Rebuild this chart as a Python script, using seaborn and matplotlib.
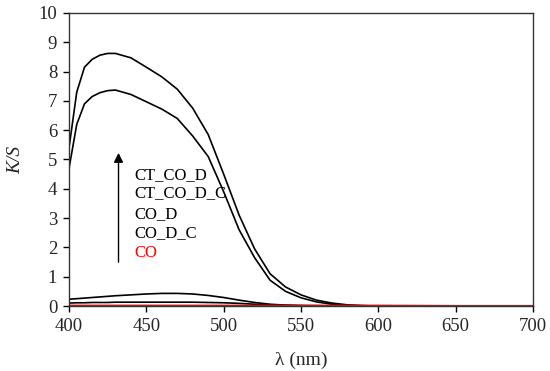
import pandas as pd
import seaborn as sns
import matplotlib.pyplot as plt

# wavelength grid (nm) and K/S values
wavelength = [400, 405, 410, 415, 420, 425, 430, 440, 450, 460, 470, 480, 490,
              500, 510, 520, 530, 540, 550, 560, 570, 580, 590, 600, 650, 700]
ct_co_d = [5.4, 7.3, 8.15, 8.42, 8.56, 8.62, 8.62, 8.47, 8.15, 7.82, 7.4, 6.75, 5.85,
           4.5, 3.1, 1.95, 1.1, 0.65, 0.38, 0.2, 0.1, 0.04, 0.01, 0.0, 0.0, 0.0]
ct_co_d_c = [4.7, 6.2, 6.9, 7.15, 7.28, 7.35, 7.37, 7.22, 6.97, 6.72, 6.4, 5.8, 5.1,
             3.9, 2.6, 1.65, 0.88, 0.5, 0.28, 0.14, 0.06, 0.02, 0.01, 0.0, 0.0, 0.0]
co_d = [0.23, 0.25, 0.27, 0.29, 0.31, 0.33, 0.35, 0.38, 0.41, 0.43, 0.43, 0.41, 0.36,
        0.29, 0.2, 0.12, 0.06, 0.03, 0.015, 0.01, 0.0, 0.0, 0.0, 0.0, 0.0, 0.0]
co_d_c = [0.1, 0.11, 0.11, 0.12, 0.12, 0.12, 0.13, 0.13, 0.13, 0.13, 0.13, 0.13, 0.12,
          0.11, 0.09, 0.06, 0.04, 0.02, 0.01, 0.0, 0.0, 0.0, 0.0, 0.0, 0.0, 0.0]
co = [0.02] * 24 + [0.01, 0.01]

labels = ["CT_CO_D", "CT_CO_D_C", "CO_D", "CO_D_C", "CO"]
label_colors = ["black", "black", "black", "black", "red"]

sns.set_theme(style="ticks")
plt.rcParams['font.family'] = ['Liberation Serif', 'DejaVu Serif']

df = pd.DataFrame({"wl": wavelength, "CT_CO_D": ct_co_d, "CT_CO_D_C": ct_co_d_c,
                   "CO_D": co_d, "CO_D_C": co_d_c, "CO": co})

fig = plt.figure(figsize=(5.5, 3.71), dpi=100)
ax = fig.add_axes([0.1255, 0.1752, 0.8435, 0.7898])

for name, col in zip(labels, label_colors):
    sns.lineplot(data=df, x="wl", y=name, color=col, linewidth=1.2, ax=ax)

ax.set_xlim(400, 700)
ax.set_ylim(0, 10)
ax.set_xticks(range(400, 701, 50))
ax.set_yticks(range(0, 11))
ax.tick_params(axis="both", direction="out", length=4.5, width=1, labelsize=13.5,
               color="black", pad=4)
for s in ax.spines.values():
    s.set_color("#333333")
    s.set_linewidth(1)

ax.set_xlabel("λ (nm)", fontsize=14, labelpad=12)
ax.set_ylabel("K/S", fontsize=14, style="italic", labelpad=10)

ax.annotate("", xy=(432, 5.32), xytext=(432, 1.4),
            arrowprops=dict(arrowstyle="-|>", color="black", lw=1,
                            mutation_scale=14))
ypos = [4.47, 3.85, 3.14, 2.48, 1.8]
for t, c, yy in zip(labels, label_colors, ypos):
    ax.text(442, yy, t, color=c, fontsize=12, va="center", ha="left")

fig.savefig("out.png", dpi=100)
